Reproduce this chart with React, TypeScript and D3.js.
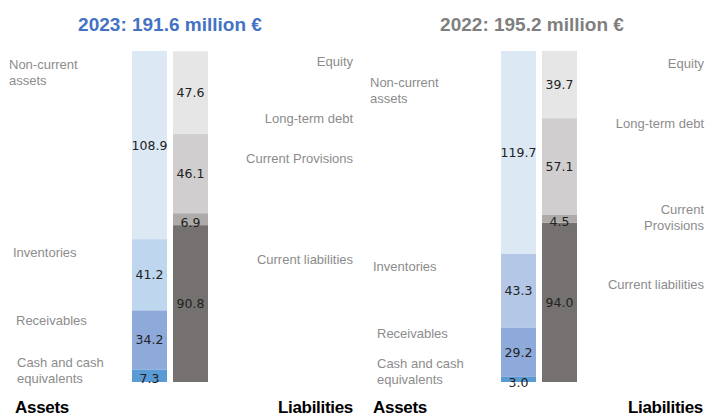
import * as React from 'react';
import * as d3 from 'd3';

// balance sheet, million €
const years = ['2023', '2022'];
const totals = [191.6, 195.2];

const assetNames = ['Cash and cash equivalents', 'Receivables', 'Inventories', 'Non-current assets'];
const assets2023 = [7.3, 34.2, 41.2, 108.9];
const assets2022 = [3.0, 29.2, 43.3, 119.7];

const liabNames = ['Current liabilities', 'Current Provisions', 'Long-term debt', 'Equity'];
const liab2023 = [90.8, 6.9, 46.1, 47.6];
const liab2022 = [94.0, 4.5, 57.1, 39.7];

const assetColors2023 = ['#5b9bd5', '#8eaadb', '#bed6ee', '#dce9f5'];
const assetColors2022 = ['#5b9bd5', '#8eaadb', '#b4c7e7', '#dce9f5'];
const liabColors = ['#757171', '#aeaaaa', '#d0cece', '#e7e6e6'];

// label layout (text lines, positions in px) - annotations, not data
const panels = [
    {
        offset: 0,
        titleColor: '#4472c4',
        titleX: 170,
        assets: assets2023,
        liab: liab2023,
        assetColors: assetColors2023,
        leftLabels: [
            { lines: ['Cash and cash', 'equivalents'], x: 17, y: 362 },
            { lines: ['Receivables'], x: 16, y: 320 },
            { lines: ['Inventories'], x: 13, y: 252 },
            { lines: ['Non-current', 'assets'], x: 9, y: 64 },
        ],
        rightX: 353,
        rightLabels: [
            { lines: ['Current liabilities'], y: 259 },
            { lines: ['Current Provisions'], y: 158 },
            { lines: ['Long-term debt'], y: 118 },
            { lines: ['Equity'], y: 61 },
        ],
        assetsX: 15,
        liabX: 353,
    },
    {
        offset: 369,
        titleColor: '#7f7f7f',
        titleX: 532,
        assets: assets2022,
        liab: liab2022,
        assetColors: assetColors2022,
        leftLabels: [
            { lines: ['Cash and cash', 'equivalents'], x: 377, y: 363 },
            { lines: ['Receivables'], x: 377, y: 333 },
            { lines: ['Inventories'], x: 373, y: 266 },
            { lines: ['Non-current', 'assets'], x: 370, y: 82 },
        ],
        rightX: 704,
        rightLabels: [
            { lines: ['Current liabilities'], y: 284 },
            { lines: ['Current', 'Provisions'], y: 209 },
            { lines: ['Long-term debt'], y: 123 },
            { lines: ['Equity'], y: 63 },
        ],
        assetsX: 373,
        liabX: 703,
    },
];

const W = 707;
const H = 416;
const top = 51;
const bottom = 382;
const lineH = 16;

function stackSegments(values: number[]) {
    let acc = 0;
    return values.map((v) => {
        const seg = { v, y0: acc, y1: acc + v };
        acc += v;
        return seg;
    });
}

function Panel({ p, i }: { p: typeof panels[0]; i: number }) {
    const xScale = d3.scaleBand<string>()
        .domain(['Assets', 'Liabilities'])
        .range([132 + p.offset, 208 + p.offset])
        .paddingInner(6 / 41);
    const yScale = d3.scaleLinear()
        .domain([0, totals[i]])
        .range([bottom, top]);

    const bars = [
        { key: 'Assets', segs: stackSegments(p.assets), colors: p.assetColors },
        { key: 'Liabilities', segs: stackSegments(p.liab), colors: liabColors },
    ];

    const fmt = d3.format('.1f');

    return (
        <g>
            <text x={p.titleX} y={24} dominantBaseline="central" textAnchor="middle"
                fill={p.titleColor} fontSize={19} fontWeight="bold"
                fontFamily="Liberation Sans, Arial, sans-serif">
                {years[i]}: {totals[i]} million €
            </text>
            {bars.map((b) => (
                <g key={b.key}>
                    {b.segs.map((s, j) => (
                        <rect key={j}
                            x={xScale(b.key)}
                            width={xScale.bandwidth()}
                            y={yScale(s.y1)}
                            height={yScale(s.y0) - yScale(s.y1)}
                            fill={b.colors[j]} />
                    ))}
                    {b.segs.map((s, j) => (
                        <text key={'t' + j}
                            x={(xScale(b.key) as number) + xScale.bandwidth() / 2}
                            y={(yScale(s.y0) + yScale(s.y1)) / 2 + (s.v < 8 ? 3 : 0)}
                            dominantBaseline="central" textAnchor="middle"
                            fontSize={12.5} fill="#222"
                            fontFamily="DejaVu Sans, Verdana, sans-serif">
                            {fmt(s.v)}
                        </text>
                    ))}
                </g>
            ))}
            {p.leftLabels.map((l, j) => (
                <text key={'l' + j} x={l.x} y={l.y} dominantBaseline="central"
                    fill="#8c8c8c" fontSize={13} fontFamily="Liberation Sans, Arial, sans-serif">
                    {l.lines.map((ln, k) => (
                        <tspan key={k} x={l.x} y={l.y + k * lineH}>{ln}</tspan>
                    ))}
                </text>
            ))}
            {p.rightLabels.map((l, j) => (
                <text key={'r' + j} x={p.rightX} y={l.y} dominantBaseline="central" textAnchor="end"
                    fill="#8c8c8c" fontSize={13} fontFamily="Liberation Sans, Arial, sans-serif">
                    {l.lines.map((ln, k) => (
                        <tspan key={k} x={p.rightX} y={l.y + k * lineH}>{ln}</tspan>
                    ))}
                </text>
            ))}
            <text x={p.assetsX} y={407} dominantBaseline="central" fill="#000"
                fontSize={17} fontWeight="bold" letterSpacing={-0.3}
                fontFamily="Liberation Sans, Arial, sans-serif">Assets</text>
            <text x={p.liabX} y={407} dominantBaseline="central" textAnchor="end" fill="#000"
                fontSize={17} fontWeight="bold" letterSpacing={-0.3}
                fontFamily="Liberation Sans, Arial, sans-serif">Liabilities</text>
        </g>
    );
}

export default function App() {
    return (
        <svg width={W} height={H} style={{ position: 'absolute', left: 0, top: 0, background: '#fff' }}>
            {panels.map((p, i) => <Panel key={i} p={p} i={i} />)}
        </svg>
    );
}
